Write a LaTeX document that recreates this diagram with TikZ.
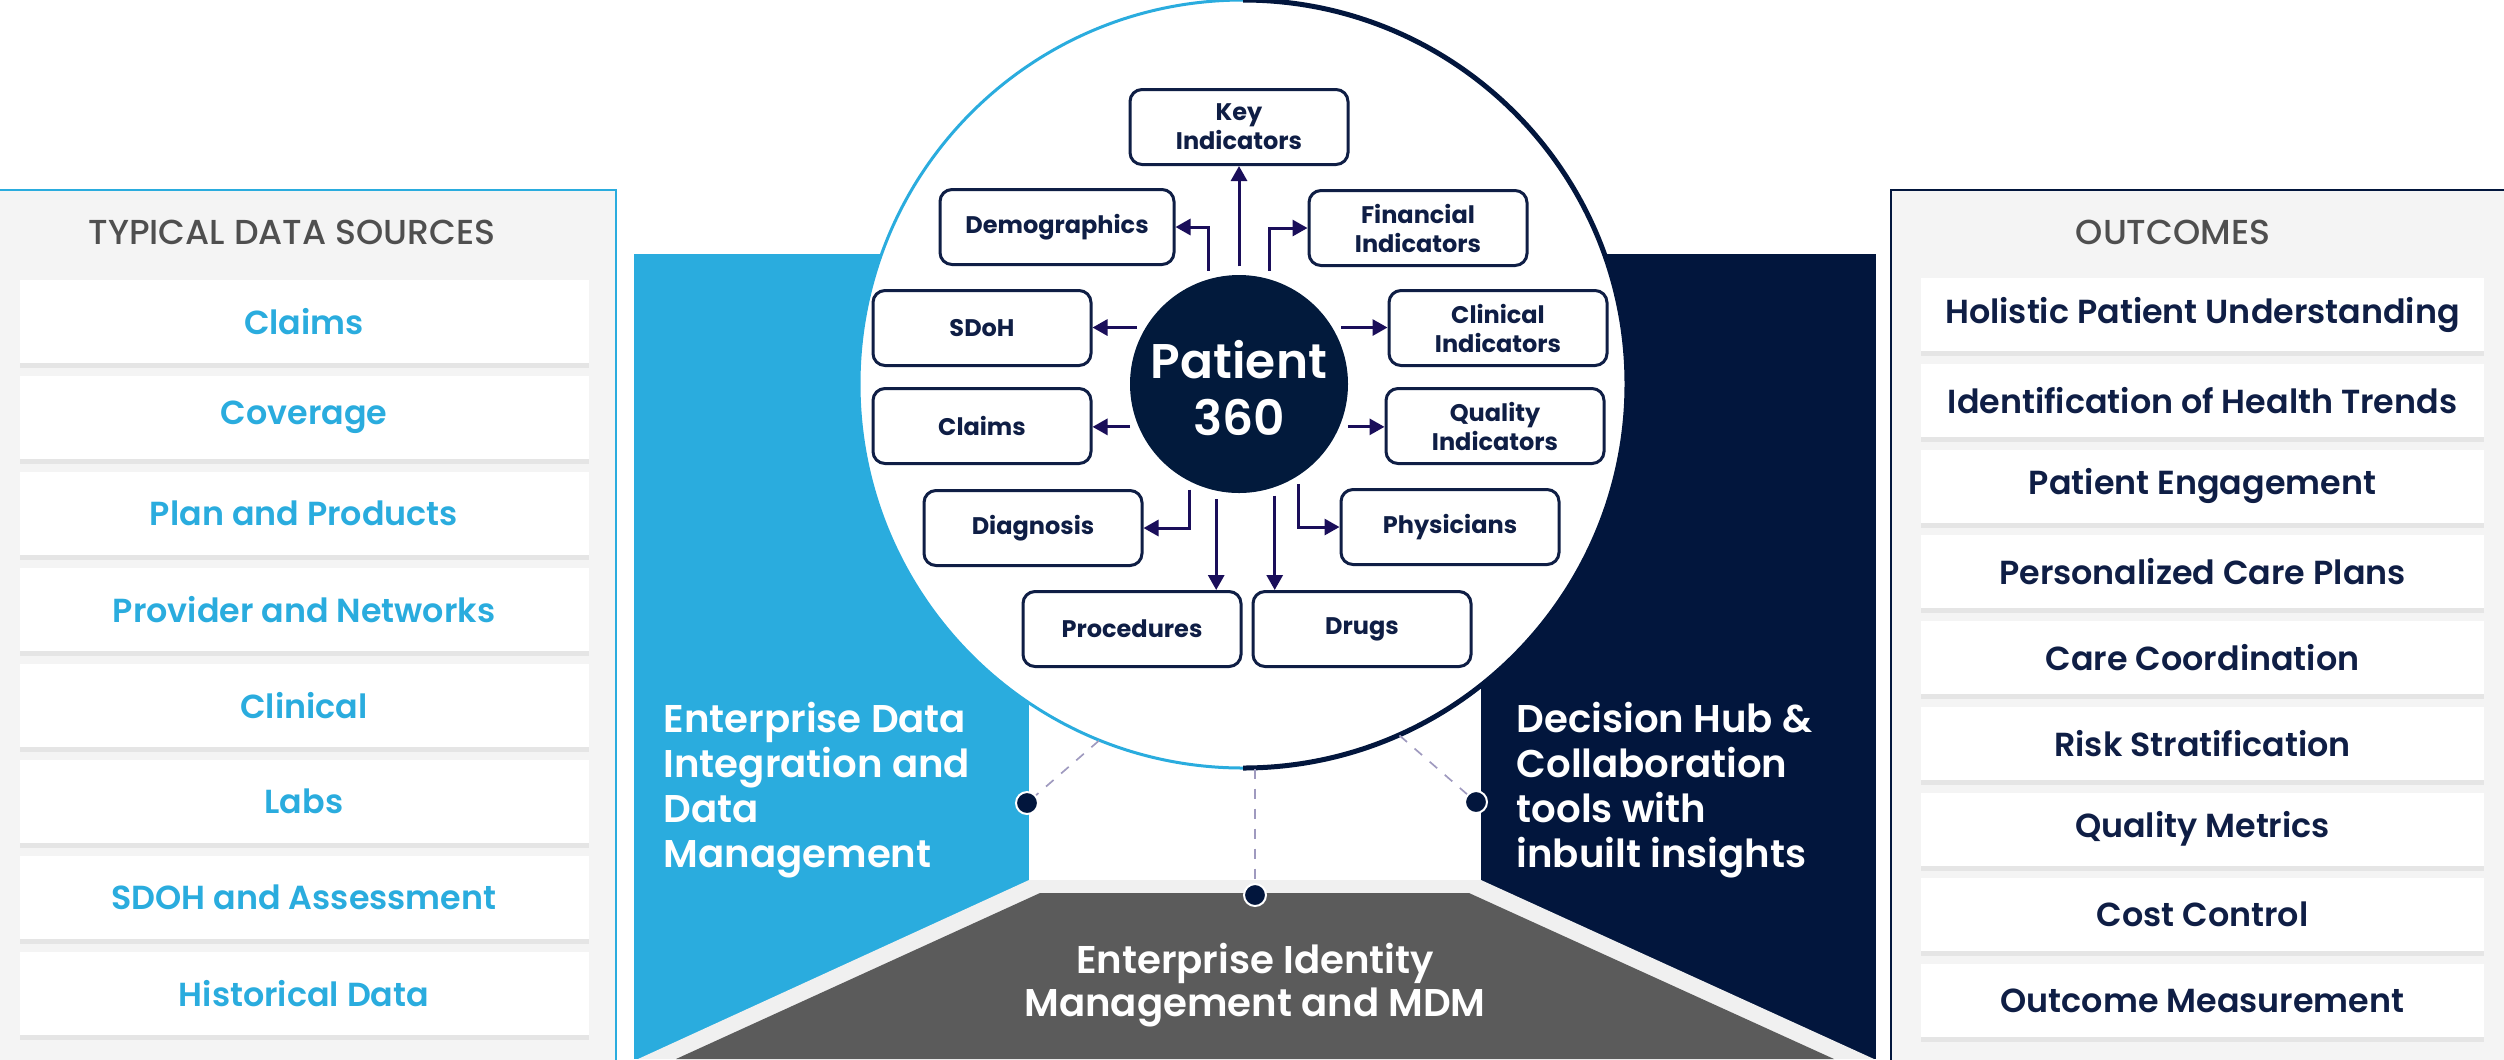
\documentclass[tikz,border=0pt]{standalone}
\usepackage{fontspec}
\setmainfont{Poppins}[FontFace={sb}{n}{Font=Poppins SemiBold},FontFace={mb}{n}{Font=Poppins Medium}]
\newcommand{\sbweight}{\fontseries{sb}\selectfont}
\newcommand{\mbweight}{\fontseries{mb}\selectfont}
\usetikzlibrary{arrows.meta,shadows,calc}

\definecolor{skyblue}{HTML}{2AACDE}
\definecolor{deepnavy}{HTML}{02163D}
\definecolor{patnavy}{HTML}{021A3C}
\definecolor{boxnavy}{HTML}{0F1E45}
\definecolor{arrowc}{HTML}{1A0E5A}
\definecolor{floorgray}{HTML}{5B5B5B}
\definecolor{stripe}{HTML}{F0F0F0}
\definecolor{panelgray}{HTML}{F4F4F4}
\definecolor{titlegray}{HTML}{4F4F4F}
\definecolor{dashc}{HTML}{9F9ABF}

\begin{document}
\begin{tikzpicture}[x=0.3pt,y=-0.3pt,
        pbox/.style={draw=boxnavy,line width=0.9pt,rounded corners=3.6pt,fill=white,
            minimum width=65.4pt,minimum height=22.5pt,inner sep=0pt,align=center,
            text=boxnavy,font=\bfseries\fontsize{7.2}{8.7}\selectfont},
        srcbox/.style={fill=white,minimum width=170.7pt,minimum height=24.9pt,inner sep=0pt,
            text=skyblue,font=\sbweight\fontsize{10}{12}\selectfont,
            drop shadow={shadow xshift=0pt,shadow yshift=-1.5pt,opacity=0.12}},
        outbox/.style={srcbox,minimum width=168.9pt,minimum height=21.9pt,text=boxnavy},
        ptitle/.style={text=titlegray,font=\mbweight\fontsize{10.4}{12}\selectfont},
        arr/.style={draw=arrowc,line width=0.9pt,-{Triangle[width=4.8pt,length=4.5pt]}},
        dot/.style={circle,fill=deepnavy,draw=white,line width=0.6pt,minimum size=6.6pt,
            inner sep=0pt},
        link/.style={draw=dashc,dashed,line width=0.5pt},
        side/.style={text=white,align=left,inner sep=0pt,anchor=west,
            font=\sbweight\fontsize{11.6}{13.5}\selectfont}]
    \useasboundingbox[fill=white] (0,0) rectangle (2504,1059);

    % data sources
    \draw[draw=skyblue,line width=0.6pt,fill=panelgray] (-10,190) rectangle (616,1080);
    \node[ptitle] (srctitle) at (292,232) {TYPICAL DATA SOURCES};
    \foreach \txt [count=\i] in {Claims,Coverage,Plan and Products,Provider and Networks,
            Clinical,Labs,SDOH and Assessment,Historical Data}
        \node[srcbox] (src\i) at (304,{321.5+96*(\i-1)}) {\txt};

    % outcomes
    \draw[draw=deepnavy,line width=0.6pt,fill=panelgray] (1891,190) rectangle (2520,1080);
    \node[ptitle] (outtitle) at (2173,232) {OUTCOMES};
    \foreach \txt [count=\i] in {Holistic Patient Understanding,Identification of Health Trends,
            Patient Engagement,Personalized Care Plans,Care Coordination,Risk Stratification,
            Quality Metrics,Cost Control,Outcome Measurement}
        \node[outbox] (out\i) at (2202.5,{314.5+85.75*(\i-1)}) {\txt};

    % blocks behind the hub
    \fill[skyblue] (634,254) rectangle (1029,1059);
    \fill[deepnavy] (1481,254) rectangle (1876,1059);
    \fill[stripe] (1029,880) -- (1481,880) -- (1874,1059) -- (638,1059) -- cycle;
    \fill[floorgray] (1040,893) -- (1469,893) -- (1834,1059) -- (676,1059) -- cycle;

    \node[side] (edi) at (663,790) {Enterprise Data\\Integration and\\Data\\Management};
    \node[side] (dhc) at (1516,790) {Decision Hub \&\\Collaboration\\tools with\\inbuilt insights};
    \node[text=white,align=center,font=\sbweight\fontsize{11.6}{12.9}\selectfont] (eim)
        at (1255,985) {Enterprise Identity\\Management and MDM};

    % hub
    \node[circle,fill=white,minimum size=230.4pt,inner sep=0pt] (hub) at (1243,384) {};
    \begin{scope}
        \clip (0,0) rectangle (1243,1059);
        \node[circle,draw=skyblue,line width=0.9pt,minimum size=230.4pt,inner sep=0pt] (hubl) at (hub) {};
    \end{scope}
    \begin{scope}
        \clip (1243,0) rectangle (2504,1059);
        \node[circle,draw=deepnavy,line width=1.5pt,minimum size=230.4pt,inner sep=0pt] (hubr) at (hub) {};
    \end{scope}

    \node[dot] (dl) at (1027,803) {};
    \node[dot] (dm) at (1255,895) {};
    \node[dot] (dr) at (1476,802) {};
    \draw[link] (hub.248) -- (dl);
    \draw[link] (hub.south -| dm) -- (dm);
    \draw[link] (hub.294) -- (dr);

    % patient 360 and its parts
    \node[circle,fill=patnavy,minimum size=65.4pt,inner sep=0pt,text=white,align=center,
        font=\sbweight\fontsize{14.6}{17}\selectfont] (pat) at (1239,384) {\\[-3pt]Patient\\360};

    \node[pbox] (key) at (1239,127) {Key\\Indicators};
    \node[pbox,minimum width=70.2pt] (demo) at (1057,227) {Demographics};
    \node[pbox] (fin) at (1418,228) {Financial\\Indicators};
    \node[pbox] (sdoh) at (982,328) {SDoH};
    \node[pbox] (clin) at (1498,328) {Clinical\\Indicators};
    \node[pbox] (claims) at (982,426) {Claims};
    \node[pbox] (qual) at (1495,426) {Quality\\Indicators};
    \node[pbox] (diag) at (1033,528) {Diagnosis};
    \node[pbox] (phys) at (1450,527) {Physicians};
    \node[pbox] (proc) at (1132,629) {Procedures};
    \node[pbox] (drugs) at (1362,629) {Drugs};

    \coordinate (tkey) at ([yshift=2.4pt]pat.north);
    \coordinate (tdemo) at ([yshift=2.4pt]pat.106);
    \coordinate (tfin) at ([yshift=2.4pt]pat.74);
    \coordinate (tsdoh) at ([xshift=-2.4pt]pat.149);
    \coordinate (tclin) at ([xshift=2.4pt]pat.31);
    \coordinate (tclaims) at ([xshift=-2.4pt]pat.203);
    \coordinate (tqual) at ([xshift=2.4pt]pat.337);
    \coordinate (tdiag) at ([yshift=-2.4pt]pat.243);
    \coordinate (tphys) at ([yshift=-2.4pt]pat.303);
    \coordinate (tproc) at ([yshift=-2.4pt]pat.258);
    \coordinate (tdrugs) at ([yshift=-2.4pt]pat.289);

    \draw[arr] (tkey) -- (key);
    \draw[arr] (tdemo) |- (demo);
    \draw[arr] (tfin) |- (fin);
    \draw[arr] (tsdoh) -- (tsdoh -| sdoh.east);
    \draw[arr] (tclin) -- (tclin -| clin.west);
    \draw[arr] (tclaims) -- (tclaims -| claims.east);
    \draw[arr] (tqual) -- (tqual -| qual.west);
    \draw[arr] (tdiag) |- (diag);
    \draw[arr] (tphys) |- (phys);
    \draw[arr] (tproc) -- (tproc |- proc.north);
    \draw[arr] (tdrugs) -- (tdrugs |- drugs.north);
\end{tikzpicture}
\end{document}
